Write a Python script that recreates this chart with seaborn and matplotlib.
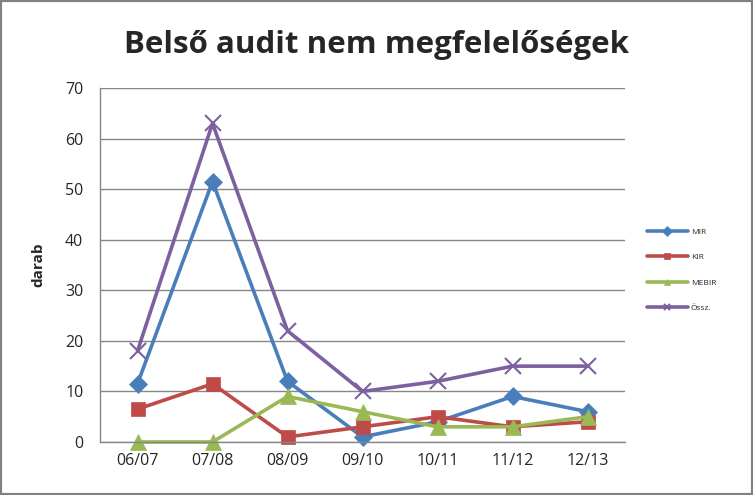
"""Belső audit nem megfelelőségek - line chart."""

import matplotlib
matplotlib.use("Agg")
import matplotlib.pyplot as plt
import pandas as pd
import seaborn as sns
from matplotlib.patches import Rectangle

periods = ["06/07", "07/08", "08/09", "09/10", "10/11", "11/12", "12/13"]
mir = [11.5, 51.5, 12, 1, 4, 9, 6]
kir = [6.5, 11.5, 1, 3, 5, 3, 4]
mebir = [0, 0, 9, 6, 3, 3, 5]
ossz = [18, 63, 22, 10, 12, 15, 15]

series_names = ["MIR", "KIR", "MEBIR", "Össz."]
series_values = [mir, kir, mebir, ossz]
colors = ["#4A7EBB", "#BE4B48", "#98B954", "#7D60A0"]
markers = ["D", "s", "^", "x"]
marker_sizes = [9, 10, 11, 11]

sns.set_style("white")
plt.rcParams["font.family"] = ["Open Sans", "DejaVu Sans"]

fig = plt.figure(figsize=(7.53, 4.95), dpi=100)
ax = fig.add_axes([100 / 753, 53 / 495, 525 / 753, 354 / 495])

for name, vals, col, mk, ms in zip(series_names, series_values, colors, markers, marker_sizes):
    df = pd.DataFrame({"period": periods, "value": vals})
    sns.lineplot(
        data=df, x="period", y="value", ax=ax, color=col, linewidth=2.6,
        marker=mk, markersize=ms, markeredgecolor=col, markeredgewidth=1.5 if mk == "x" else 0.5,
        label=name, sort=False,
    )

ax.set_xlim(-0.5, len(periods) - 0.5)
ax.set_ylim(0, 70)
ax.set_yticks(range(0, 71, 10))
ax.yaxis.grid(True, color="#868686", linewidth=1)
ax.set_axisbelow(True)
for side in ["top", "right"]:
    ax.spines[side].set_visible(False)
for side in ["left", "bottom"]:
    ax.spines[side].set_color("#868686")
    ax.spines[side].set_linewidth(1)
ax.tick_params(axis="y", labelsize=11.5, length=0, pad=12)
ax.tick_params(axis="x", labelsize=11.5, length=0, pad=8)
ax.set_xlabel("")
ax.set_ylabel("darab", fontsize=11, fontweight="bold", labelpad=14)
for line in ax.lines:
    line.set_clip_on(False)

fig.text(0.5, 1 - 45 / 495, "Belső audit nem megfelelőségek", ha="center", va="center",
         fontsize=22.5, fontweight="bold")

leg = ax.legend(loc="center left", bbox_to_anchor=(639 / 753, 1 - 270 / 495),
                bbox_transform=fig.transFigure, frameon=False, fontsize=6,
                handlelength=5, labelspacing=2.1, handletextpad=0.3)
for h in leg.legend_handles:
    h.set_markersize(5)

fig.patches.append(Rectangle((0, 0), 1, 1, transform=fig.transFigure, fill=False,
                             edgecolor="#808080", linewidth=3))

fig.savefig("out.png", dpi=100)
plt.close(fig)
